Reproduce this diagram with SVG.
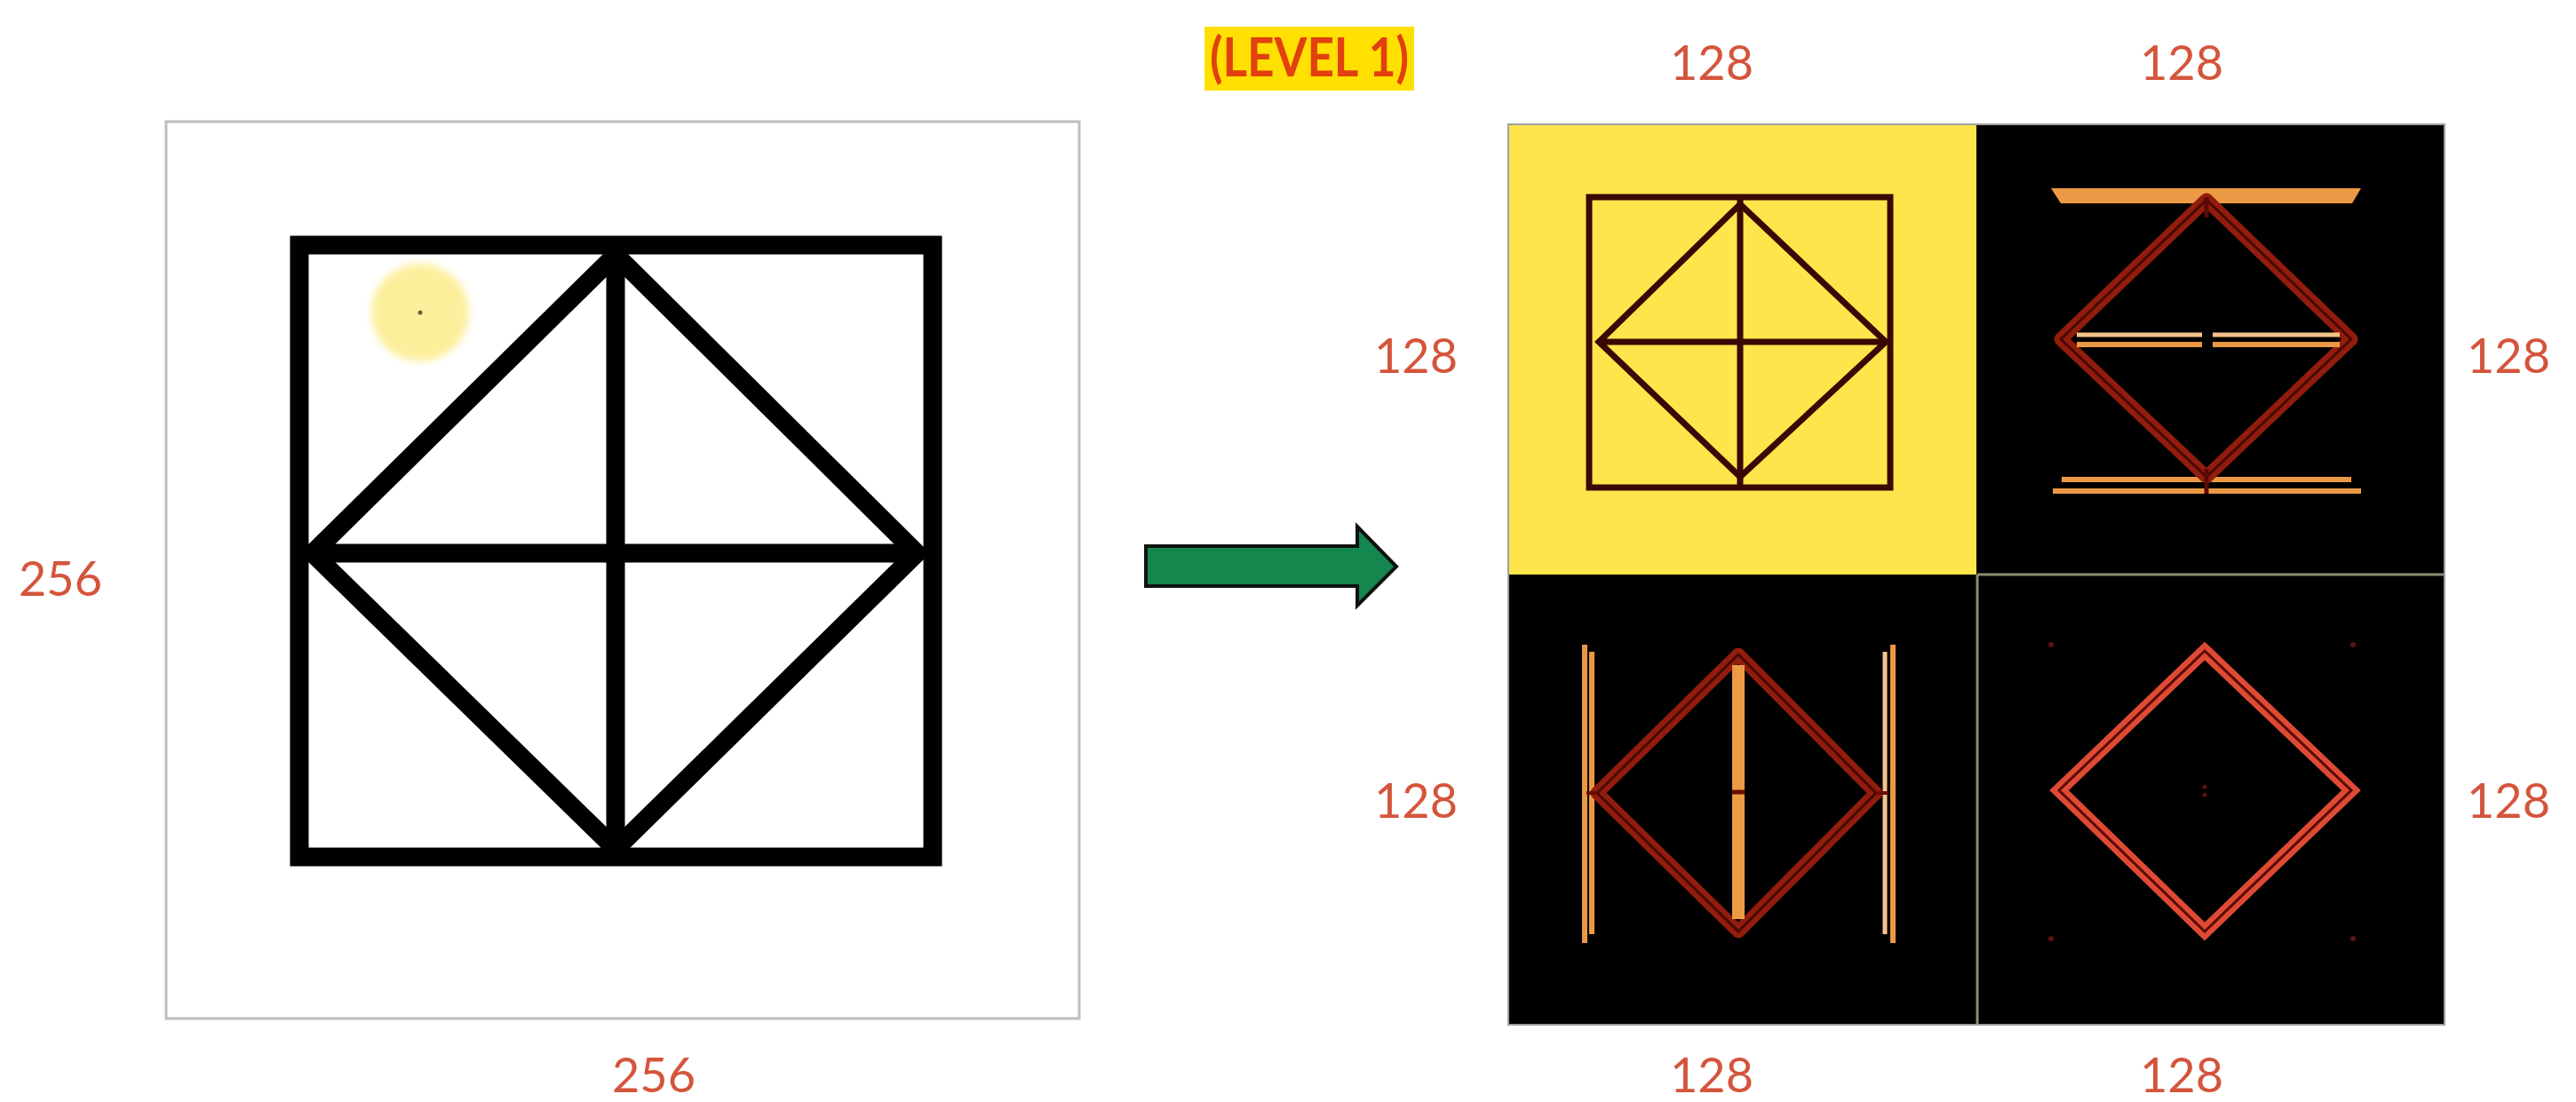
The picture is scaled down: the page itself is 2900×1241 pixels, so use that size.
<svg xmlns="http://www.w3.org/2000/svg" width="2900" height="1241" viewBox="0 0 2900 1241">
  <style>
    .dim { font-family: Lato, "Open Sans", "Liberation Sans", sans-serif; font-size: 54px; fill: #d4553c; text-anchor: middle; }
    .title { font-family: Lato, "Open Sans", "Liberation Sans", sans-serif; font-weight: bold; font-size: 62px; fill: #e2400f; text-anchor: middle; }
    .ink { fill: none; stroke: #000; stroke-width: 21; stroke-linejoin: miter; }
    .ink-q { fill: none; stroke: #3a0905; stroke-width: 7; }
    .red-band { fill: none; stroke: #921d0c; stroke-width: 15; stroke-linejoin: round; }
    .red-core { fill: none; stroke: #4a0804; stroke-width: 3; stroke-linejoin: round; }
    .pink-band { fill: none; stroke: #de4a34; stroke-width: 15; stroke-linejoin: miter; }
    .pink-core { fill: none; stroke: #5a0a05; stroke-width: 3; stroke-linejoin: miter; }
    .orange { stroke: #eb9844; stroke-width: 6; stroke-linecap: butt; }
    .orange-lt { stroke: #f6c38c; stroke-width: 5; }
  </style>
  <defs>
    <filter id="soft" x="-30%" y="-30%" width="160%" height="160%">
      <feGaussianBlur stdDeviation="4"/>
    </filter>
  </defs>

  <rect width="2900" height="1241" fill="#ffffff"/>

  <!-- title tag -->
  <g id="title">
    <rect x="1356" y="30" width="236" height="72" fill="#ffe000"/>
    <text class="title" x="1474" y="86" textLength="224" lengthAdjust="spacingAndGlyphs">(LEVEL 1)</text>
  </g>

  <!-- input image 256 x 256 -->
  <g id="input-image">
    <rect x="187" y="137" width="1028" height="1010" fill="#ffffff" stroke="#bdbdbd" stroke-width="3"/>
    <circle cx="473" cy="352" r="55" fill="#fcef9c" filter="url(#soft)"/>
    <circle cx="473" cy="352" r="2.5" fill="#6b6030"/>
    <rect class="ink" x="337" y="276" width="713" height="689"/>
    <polygon class="ink" points="693,287 1032,623 693,956 352,623"/>
    <line class="ink" x1="693" y1="276" x2="693" y2="965"/>
    <line class="ink" x1="352" y1="623" x2="1032" y2="623"/>
  </g>
  <g id="input-labels">
    <text class="dim" x="68" y="671">256</text>
    <text class="dim" x="736" y="1230">256</text>
  </g>

  <!-- transform arrow -->
  <g id="connectors">
    <polygon points="1290,615 1528,615 1528,593 1572,638 1528,682 1528,660 1290,660" fill="#13874d" stroke="#111" stroke-width="4" stroke-linejoin="miter"/>
  </g>

  <!-- output: four 128 x 128 sub-bands -->
  <g id="band-ll">
    <rect x="1698" y="140" width="527" height="507" fill="#fee54c"/>
    <rect class="ink-q" x="1789" y="222" width="339" height="327"/>
    <polygon class="ink-q" points="1959,230 2123,385 1959,537 1800,385"/>
    <line class="ink-q" x1="1959" y1="222" x2="1959" y2="549"/>
    <line class="ink-q" x1="1800" y1="385" x2="2123" y2="385" stroke-width="10"/>
  </g>

  <g id="band-lh">
    <rect x="2225" y="140" width="527" height="507" fill="#000"/>
    <polygon points="2309,212 2658,212 2648,229 2320,229" fill="#ec9a45"/>
    <line class="orange" x1="2321" y1="540" x2="2647" y2="540"/>
    <line class="orange" x1="2311" y1="553" x2="2658" y2="553"/>
    <polygon class="red-band" points="2484,225 2647,382 2484,537 2320,382"/>
    <polygon class="red-core" points="2484,225 2647,382 2484,537 2320,382"/>
    <line class="orange-lt" x1="2338" y1="377" x2="2479" y2="377"/>
    <line class="orange-lt" x1="2491" y1="377" x2="2634" y2="377"/>
    <line class="orange" x1="2338" y1="388" x2="2479" y2="388" stroke-width="5"/>
    <line class="orange" x1="2491" y1="388" x2="2634" y2="388" stroke-width="5"/>
    <line x1="2484" y1="222" x2="2484" y2="245" stroke="#5a0a05" stroke-width="5"/>
    <line x1="2484" y1="528" x2="2484" y2="556" stroke="#5a0a05" stroke-width="5"/>
  </g>

  <g id="band-hl">
    <rect x="1698" y="647" width="527" height="507" fill="#000"/>
    <line class="orange" x1="1784" y1="726" x2="1784" y2="1062" stroke-width="5"/>
    <line class="orange" x1="1792" y1="734" x2="1792" y2="1052" stroke-width="5"/>
    <line class="orange" x1="2131" y1="726" x2="2131" y2="1062" stroke-width="5"/>
    <line class="orange-lt" x1="2122" y1="734" x2="2122" y2="1052"/>
    <polygon class="red-band" points="1957,737 2112,893 1957,1049 1798,893"/>
    <polygon class="red-core" points="1957,737 2112,893 1957,1049 1798,893"/>
    <line x1="1957" y1="749" x2="1957" y2="1035" stroke="#ec9a45" stroke-width="14"/>
    <line x1="1950" y1="892" x2="1964" y2="892" stroke="#6a0c05" stroke-width="5"/>
    <line x1="1786" y1="893" x2="1798" y2="893" stroke="#6a0c05" stroke-width="4"/>
    <line x1="2112" y1="893" x2="2126" y2="893" stroke="#6a0c05" stroke-width="4"/>
  </g>

  <g id="band-hh">
    <rect x="2225" y="647" width="527" height="507" fill="#000"/>
    <polygon class="pink-band" points="2482,733 2647,890 2482,1049 2318,890"/>
    <polygon class="pink-core" points="2482,733 2647,890 2482,1049 2318,890"/>
    <g fill="#5c1414">
      <circle cx="2309" cy="726" r="3"/>
      <circle cx="2649" cy="726" r="3"/>
      <circle cx="2309" cy="1057" r="3"/>
      <circle cx="2649" cy="1057" r="3"/>
      <circle cx="2482" cy="886" r="2.5"/>
      <circle cx="2482" cy="895" r="2.5"/>
    </g>
  </g>

  <!-- sub-band separators and frame -->
  <g id="output-frame" fill="none" stroke="#8c8c70" stroke-width="3">
    <line x1="2226" y1="647" x2="2752" y2="647"/>
    <line x1="2226" y1="647" x2="2226" y2="1154"/>
    <rect x="1698" y="140" width="1054" height="1014" stroke="#a0a0a0" stroke-width="2"/>
  </g>

  <g id="output-labels">
    <text class="dim" x="1927" y="90">128</text>
    <text class="dim" x="2456" y="90">128</text>
    <text class="dim" x="1594" y="420">128</text>
    <text class="dim" x="1594" y="921">128</text>
    <text class="dim" x="2824" y="420">128</text>
    <text class="dim" x="2824" y="921">128</text>
    <text class="dim" x="1927" y="1230">128</text>
    <text class="dim" x="2456" y="1230">128</text>
  </g>
</svg>
